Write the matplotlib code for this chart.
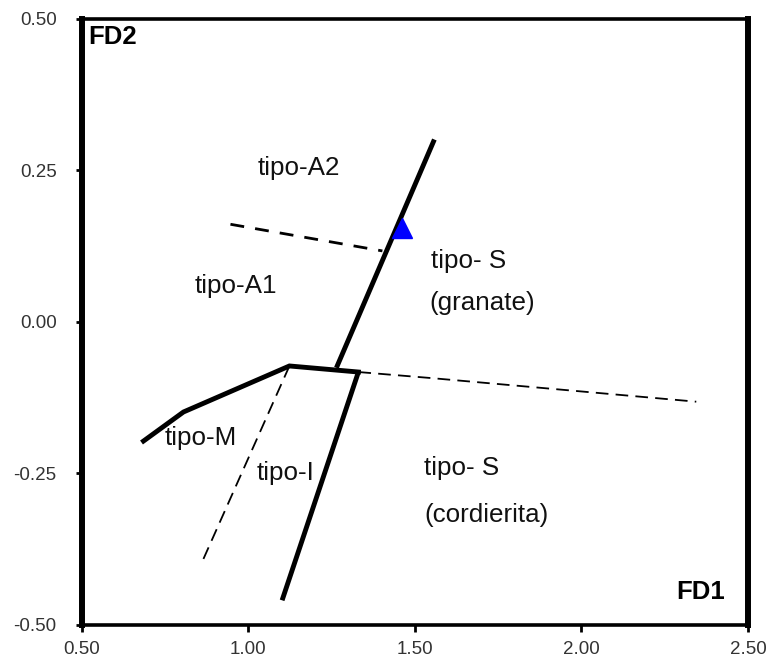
import matplotlib
matplotlib.use("Agg")
import matplotlib.pyplot as plt

plt.rcParams['font.family'] = ['Liberation Sans', 'DejaVu Sans']

# Boundary lines (FD1, FD2)
solid_upper_x = [1.265, 1.559]
solid_upper_y = [-0.076, 0.301]
solid_m_x = [0.686, 0.806, 1.124, 1.331]
solid_m_y = [-0.197, -0.149, -0.073, -0.083]
solid_i_x = [1.331, 1.102]
solid_i_y = [-0.083, -0.460]
dash_a_x = [0.947, 1.403]
dash_a_y = [0.161, 0.117]
dash_s_x = [1.331, 1.55, 2.345]
dash_s_y = [-0.083, -0.093, -0.132]
dash_m_x = [1.124, 0.86]
dash_m_y = [-0.073, -0.399]
sample_x = [1.463]
sample_y = [0.155]

xticks = [0.5, 1.0, 1.5, 2.0, 2.5]
xticklabels = ['0.50', '1.00', '1.50', '2.00', '2.50']
yticks = [-0.5, -0.25, 0.0, 0.25, 0.5]
yticklabels = ['-0.50', '-0.25', '0.00', '0.25', '0.50']

fig = plt.figure(figsize=(7.66, 6.62), dpi=100)
ax = fig.add_axes([0.1064, 0.0566, 0.870, 0.9147])
ax.set_xlim(0.5, 2.5)
ax.set_ylim(-0.5, 0.5)

lw = 3.5
ax.plot(solid_upper_x, solid_upper_y, color='black', lw=lw, solid_capstyle='butt')
ax.plot(solid_m_x, solid_m_y, color='black', lw=lw, solid_joinstyle='miter')
ax.plot(solid_i_x, solid_i_y, color='black', lw=lw, solid_capstyle='butt')
ax.plot(dash_a_x, dash_a_y, color='black', lw=2.0, dashes=(5, 4))
ax.plot(dash_s_x, dash_s_y, color='black', lw=1.3, dashes=(7, 4))
ax.plot(dash_m_x, dash_m_y, color='black', lw=1.3, dashes=(7, 4))
ax.plot(sample_x, sample_y, marker='^', color='#0000ff', markersize=15, linestyle='none')

fs = 18.7
tc = '#111111'
ax.text(1.151, 0.242, 'tipo-A2', fontsize=fs, ha='center', va='baseline', color=tc)
ax.text(0.962, 0.048, 'tipo-A1', fontsize=fs, ha='center', va='baseline', color=tc)
ax.text(1.550, 0.089, 'tipo- S', fontsize=fs, ha='left', va='baseline', color=tc)
ax.text(1.544, 0.020, '(granate)', fontsize=fs, ha='left', va='baseline', color=tc)
ax.text(0.749, -0.204, 'tipo-M', fontsize=fs, ha='left', va='baseline', color=tc)
ax.text(1.025, -0.262, 'tipo-I', fontsize=fs, ha='left', va='baseline', color=tc)
ax.text(1.529, -0.253, 'tipo- S', fontsize=fs, ha='left', va='baseline', color=tc)
ax.text(1.529, -0.331, '(cordierita)', fontsize=fs, ha='left', va='baseline', color=tc)
ax.text(0.521, 0.471, 'FD2', fontsize=18.5, fontweight='bold', ha='left', va='center')
ax.text(2.432, -0.447, 'FD1', fontsize=18.5, fontweight='bold', ha='right', va='center')

ax.set_xticks(xticks)
ax.set_xticklabels(xticklabels)
ax.set_yticks(yticks)
ax.set_yticklabels(yticklabels)
ax.tick_params(direction='out', width=2, labelsize=13.5, colors='black', labelcolor='#333333')
ax.tick_params(axis='x', length=5, pad=6.5)
ax.tick_params(axis='y', length=4, pad=14)

ax.spines['left'].set_linewidth(4.3)
ax.spines['right'].set_linewidth(4.3)
ax.spines['top'].set_linewidth(2.6)
ax.spines['bottom'].set_linewidth(2.6)

fig.savefig('out.png', dpi=100)
